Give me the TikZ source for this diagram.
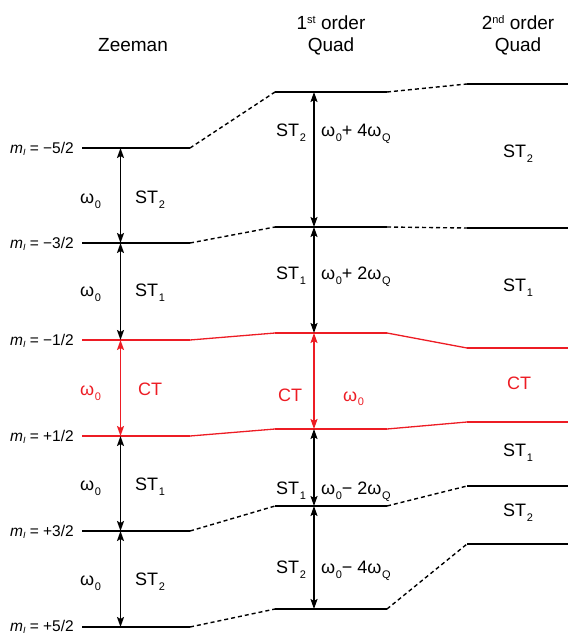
\documentclass[tikz,border=0pt]{standalone}
\usepackage{fontspec}
\setmainfont{Liberation Sans}
\usetikzlibrary{arrows.meta}
\definecolor{ctred}{RGB}{237,28,36}
\newcommand{\subs}[1]{\kern0.6pt\raisebox{-4.5pt}{\fontsize{11}{11}\selectfont #1}}
\newcommand{\sups}[1]{\raisebox{6pt}{\fontsize{11}{11}\selectfont #1}}
\newcommand{\mI}[1]{\textit{m}\raisebox{-2pt}{\fontsize{9}{9}\selectfont\textit{I}} = #1}
\tikzset{
  level/.style={line width=2pt},
  conn/.style={line width=1.4pt, dash pattern=on 4pt off 3pt},
  redconn/.style={line width=1.3pt, ctred},
  arr/.style={line width=1.8pt, {Stealth[length=10pt,width=7pt,inset=2pt]}-{Stealth[length=10pt,width=7pt,inset=2pt]}},
  hdr/.style={font=\fontsize{19}{22}\selectfont, anchor=base, inner sep=0pt},
  lab/.style={font=\fontsize{18}{20}\selectfont, anchor=base west, inner sep=0pt},
  mlab/.style={font=\fontsize{15.5}{17}\selectfont, anchor=base east, inner sep=0pt},
}
\begin{document}
\begin{tikzpicture}[x=1pt,y=-1pt]
\useasboundingbox (0,0) rectangle (568,634);
% level coordinates
\foreach \i/\zy/\fy/\sy in {1/148/92/84, 2/243/227/228, 3/340/333/348, 4/436/429/422, 5/531/506/486, 6/627/609/544} {
  \coordinate (zl\i) at (82,\zy);  \coordinate (zr\i) at (190,\zy);
  \coordinate (fl\i) at (275,\fy); \coordinate (fr\i) at (387,\fy);
  \coordinate (sl\i) at (467,\sy); \coordinate (sr\i) at (568,\sy);
}
\coordinate (za) at (120.5,0);
\coordinate (fa) at (314,0);
% headers
\node[hdr] (hz) at (133,52) {Zeeman};
\node[hdr] (hf1) at (331,30) {1\sups{st} order};
\node[hdr] (hf2) at (331,52) {Quad};
\node[hdr] (hs1) at (518,30) {2\sups{nd} order};
\node[hdr] (hs2) at (518,52) {Quad};
% levels
\foreach \i in {1,2,5,6} {
  \draw[level] (zl\i) -- (zr\i);
  \draw[level] (fl\i) -- (fr\i);
  \draw[level] (sl\i) -- (sr\i);
  \draw[conn] (zr\i) -- (fl\i);
  \draw[conn] (fr\i) -- (sl\i);
}
\foreach \i in {3,4} {
  \draw[level,ctred] (zl\i) -- (zr\i);
  \draw[level,ctred] (fl\i) -- (fr\i);
  \draw[level,ctred] (sl\i) -- (sr\i);
  \draw[redconn] (zr\i) -- (fl\i);
  \draw[redconn] (fr\i) -- (sl\i);
}
% m_I labels
\node[mlab] (m1) at (74,153) {\mI{−5/2}};
\node[mlab] (m2) at (74,248) {\mI{−3/2}};
\node[mlab] (m3) at (74,345) {\mI{−1/2}};
\node[mlab] (m4) at (74,441) {\mI{+1/2}};
\node[mlab] (m5) at (74,536) {\mI{+3/2}};
\node[mlab] (m6) at (74,631.5) {\mI{+5/2}};
% Zeeman arrows
\draw[arr] (za |- zl1) -- (za |- zl2);
\draw[arr] (za |- zl2) -- (za |- zl3);
\draw[arr,ctred] (za |- zl3) -- (za |- zl4);
\draw[arr] (za |- zl4) -- (za |- zl5);
\draw[arr] (za |- zl5) -- (za |- zl6);
% 1st order arrows
\draw[arr] (fa |- fl1) -- (fa |- fl2);
\draw[arr] (fa |- fl2) -- (fa |- fl3);
\draw[arr,ctred] (fa |- fl3) -- (fa |- fl4);
\draw[arr] (fa |- fl4) -- (fa |- fl5);
\draw[arr] (fa |- fl5) -- (fa |- fl6);
% Zeeman labels
\node[lab] (zw1) at (80,203.5) {ω\subs{0}};
\node[lab] (zs1) at (135,203.5) {ST\subs{2}};
\node[lab] (zw2) at (80,296.5) {ω\subs{0}};
\node[lab] (zs2) at (135,296.5) {ST\subs{1}};
\node[lab,ctred] (zw3) at (80,395.5) {ω\subs{0}};
\node[lab,ctred] (zs3) at (138,395.5) {CT};
\node[lab] (zw4) at (80,490.5) {ω\subs{0}};
\node[lab] (zs4) at (135,490.5) {ST\subs{1}};
\node[lab] (zw5) at (80,585.5) {ω\subs{0}};
\node[lab] (zs5) at (135,585.5) {ST\subs{2}};
% 1st order labels
\node[lab] (fs1) at (276,136.5) {ST\subs{2}};
\node[lab] (fw1) at (321,136.5) {ω\subs{0}+ 4ω\subs{Q}};
\node[lab] (fs2) at (276,279.5) {ST\subs{1}};
\node[lab] (fw2) at (321,279.5) {ω\subs{0}+ 2ω\subs{Q}};
\node[lab,ctred] (fs3) at (278,401) {CT};
\node[lab,ctred] (fw3) at (343,401) {ω\subs{0}};
\node[lab] (fs4) at (276,494.5) {ST\subs{1}};
\node[lab] (fw4) at (321,494.5) {ω\subs{0}− 2ω\subs{Q}};
\node[lab] (fs5) at (276,573.5) {ST\subs{2}};
\node[lab] (fw5) at (321,573.5) {ω\subs{0}− 4ω\subs{Q}};
% 2nd order labels
\node[lab] (ss1) at (503,157.5) {ST\subs{2}};
\node[lab] (ss2) at (503,291.5) {ST\subs{1}};
\node[lab,ctred] (ss3) at (507,389.5) {CT};
\node[lab] (ss4) at (503,456.5) {ST\subs{1}};
\node[lab] (ss5) at (503,516.5) {ST\subs{2}};
\end{tikzpicture}
\end{document}
